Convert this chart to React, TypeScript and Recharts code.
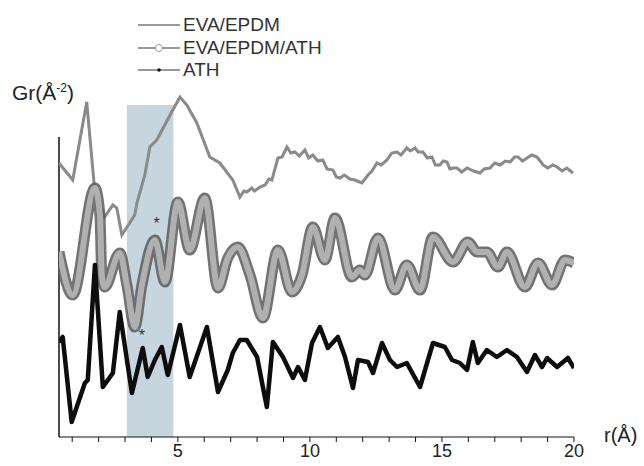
import {
  LineChart, Line, XAxis, YAxis, ReferenceArea, ReferenceLine, ReferenceDot,
} from 'recharts'

// [r (Å), G(r) offset, arbitrary units]
const evaEpdm: [number, number][] = [
  [0.5, 274], [1.02, 257], [1.55, 335], [1.85, 247], [2.23, 220], [2.54, 232], [2.69, 229],
  [2.88, 202], [3.37, 222], [3.45, 234], [3.75, 262], [3.94, 290], [4.2, 297], [4.81, 327],
  [5.08, 340], [5.34, 332], [5.72, 314], [6.21, 280], [6.59, 274], [7.08, 257], [7.35, 240],
  [7.5, 246], [7.61, 245], [7.8, 249], [7.9, 246], [8.11, 250], [8.3, 252], [8.45, 258],
  [8.56, 257], [8.79, 279], [8.95, 280], [9.13, 290], [9.28, 284], [9.43, 285], [9.6, 281],
  [9.81, 287], [9.95, 279], [10.11, 282], [10.3, 276], [10.49, 277], [10.65, 268],
  [10.87, 267], [11.0, 260], [11.14, 259], [11.3, 262], [11.52, 258], [11.7, 257],
  [11.97, 254], [12.2, 262], [12.35, 266], [12.54, 274], [12.7, 272], [12.92, 277],
  [13.1, 284], [13.3, 285], [13.45, 282], [13.67, 289], [13.8, 286], [13.98, 289],
  [14.1, 285], [14.28, 285], [14.45, 279], [14.62, 280], [14.75, 272], [14.92, 272],
  [15.05, 276], [15.19, 275], [15.3, 268], [15.42, 269], [15.57, 269], [15.75, 265],
  [15.95, 269], [16.2, 266], [16.44, 264], [16.6, 268], [16.82, 269], [17.0, 274],
  [17.2, 272], [17.4, 276], [17.58, 275], [17.75, 280], [17.88, 280], [18.05, 276],
  [18.22, 279], [18.4, 282], [18.6, 280], [18.83, 272], [19.0, 269], [19.2, 272],
  [19.36, 270], [19.55, 266], [19.73, 269], [19.96, 264],
]

const evaEpdmAth: [number, number][] = [
  [0.5, 185], [1.02, 142], [1.86, 249], [2.05, 222], [2.12, 162], [2.23, 150], [2.8, 184],
  [3.07, 152], [3.37, 110], [3.64, 152], [4.13, 197], [4.51, 155], [5.0, 235], [5.45, 187],
  [6.02, 239], [6.52, 149], [6.89, 179], [7.27, 190], [7.73, 162], [8.22, 119], [8.79, 187],
  [9.32, 145], [9.7, 162], [10.11, 210], [10.57, 177], [10.95, 219], [11.59, 160],
  [11.89, 167], [12.08, 162], [12.58, 199], [13.22, 147], [13.67, 172], [14.17, 147],
  [14.66, 200], [15.42, 175], [15.98, 195], [16.33, 185], [16.7, 185], [17.12, 170],
  [17.46, 185], [18.14, 150], [18.64, 174], [19.17, 152], [19.66, 177], [20.0, 174],
]

const ath: [number, number][] = [
  [0.5, 95], [0.64, 100], [0.98, 15], [1.48, 54], [1.59, 57], [1.86, 172], [2.16, 50],
  [2.54, 64], [2.8, 125], [3.26, 44], [3.67, 89], [3.86, 60], [4.13, 77], [4.39, 90],
  [4.62, 62], [5.08, 112], [5.45, 60], [6.1, 110], [6.52, 45], [6.89, 67], [7.08, 84],
  [7.35, 97], [7.61, 97], [8.0, 80], [8.22, 50], [8.37, 30], [8.6, 95], [8.98, 80],
  [9.36, 59], [9.55, 70], [9.81, 57], [10.08, 94], [10.38, 110], [10.68, 89], [11.06, 100],
  [11.33, 80], [11.63, 49], [11.82, 77], [12.2, 75], [12.39, 64], [12.73, 94], [13.03, 77],
  [13.3, 70], [13.67, 74], [14.17, 50], [14.66, 94], [15.11, 90], [15.38, 77], [15.68, 74],
  [15.95, 67], [16.17, 95], [16.36, 74], [16.7, 87], [17.08, 80], [17.46, 87], [17.84, 80],
  [18.22, 65], [18.52, 82], [18.79, 70], [18.98, 79], [19.36, 70], [19.77, 79], [20.0, 69],
]

const xTicks = [1, 2, 3, 4, 5, 6, 7, 8, 9, 10, 11, 12, 13, 14, 15, 16, 17, 18, 19, 20]
const shade = { from: 3.07, to: 4.83, top: 332 }
const stars: [number, number][] = [[4.2, 214], [3.64, 102]]

const rows = (pts: [number, number][]) => pts.map(([r, g]) => ({ r, g }))

const font = '"Liberation Sans", Arial, sans-serif'

function Legend() {
  const items = [
    { name: 'EVA/EPDM', mark: null },
    { name: 'EVA/EPDM/ATH', mark: 'circle' },
    { name: 'ATH', mark: 'dot' },
  ]
  return (
    <div style={{ position: 'absolute', left: 138, top: 14, fontFamily: font, color: '#333', lineHeight: '22.5px' }}>
      {items.map((it) => (
        <div key={it.name} style={{ display: 'flex', alignItems: 'center', height: 22.5 }}>
          <svg width={42} height={10} style={{ marginRight: 3, flex: 'none' }}>
            <line x1={0} y1={5} x2={42} y2={5} stroke="#777" strokeWidth={1.5} />
            {it.mark === 'circle' && <circle cx={21} cy={5} r={3.5} fill="#fff" stroke="#999" />}
            {it.mark === 'dot' && <circle cx={21} cy={5} r={1.8} fill="#111" />}
          </svg>
          <span style={{ fontSize: 19, whiteSpace: 'nowrap' }}>{it.name}</span>
        </div>
      ))}
    </div>
  )
}

export default function App() {
  return (
    <div style={{ position: 'absolute', left: 0, top: 0, width: 644, height: 466, background: '#fff' }}>
      <LineChart width={644} height={466} margin={{ top: 87, right: 70, bottom: 4, left: 59 }}>
        <ReferenceArea
          x1={shade.from}
          x2={shade.to}
          y1={0}
          y2={shade.top}
          fill="#a9bfcc"
          fillOpacity={0.65}
          stroke="none"
        />
        <XAxis
          type="number"
          dataKey="r"
          domain={[0.5, 20]}
          ticks={xTicks}
          allowDataOverflow
          height={25}
          stroke="#111"
          tickSize={5}
          tickMargin={2}
          tickFormatter={(v: number) => (v % 5 === 0 ? String(v) : '')}
          tick={{ fill: '#222', fontSize: 18, fontFamily: font }}
        />
        <YAxis type="number" domain={[0, 350]} hide />
        <ReferenceLine
          segment={[{ x: 0.5, y: 0 }, { x: 0.5, y: 300 }]}
          stroke="#111"
          strokeWidth={1.5}
        />
        <Line
          data={rows(evaEpdm)}
          dataKey="g"
          type="linear"
          stroke="#8a8a8a"
          strokeWidth={3}
          dot={false}
          isAnimationActive={false}
        />
        <Line
          data={rows(evaEpdmAth)}
          dataKey="g"
          type="monotone"
          stroke="#5a5a5a"
          strokeWidth={11}
          strokeOpacity={0.85}
          dot={false}
          isAnimationActive={false}
        />
        <Line
          data={rows(evaEpdmAth)}
          dataKey="g"
          type="monotone"
          stroke="#b0b0b0"
          strokeWidth={6}
          dot={false}
          isAnimationActive={false}
        />
        <Line
          data={rows(ath)}
          dataKey="g"
          type="linear"
          stroke="#0d0d0d"
          strokeWidth={4.5}
          strokeLinejoin="round"
          dot={false}
          isAnimationActive={false}
        />
        {stars.map(([r, g]) => (
          <ReferenceDot
            key={r}
            x={r}
            y={g}
            r={0}
            label={{ value: '*', position: 'center', fill: '#333', fontSize: 16, fontFamily: font }}
          />
        ))}
      </LineChart>
      <Legend />
      <div style={{ position: 'absolute', left: 12, top: 75, fontFamily: font, fontSize: 21, color: '#222', lineHeight: '26px' }}>
        Gr(Å<sup style={{ fontSize: 12 }}>-2</sup>)
      </div>
      <div style={{ position: 'absolute', left: 604, top: 424, fontFamily: font, fontSize: 20, color: '#222' }}>
        r(Å)
      </div>
    </div>
  )
}
